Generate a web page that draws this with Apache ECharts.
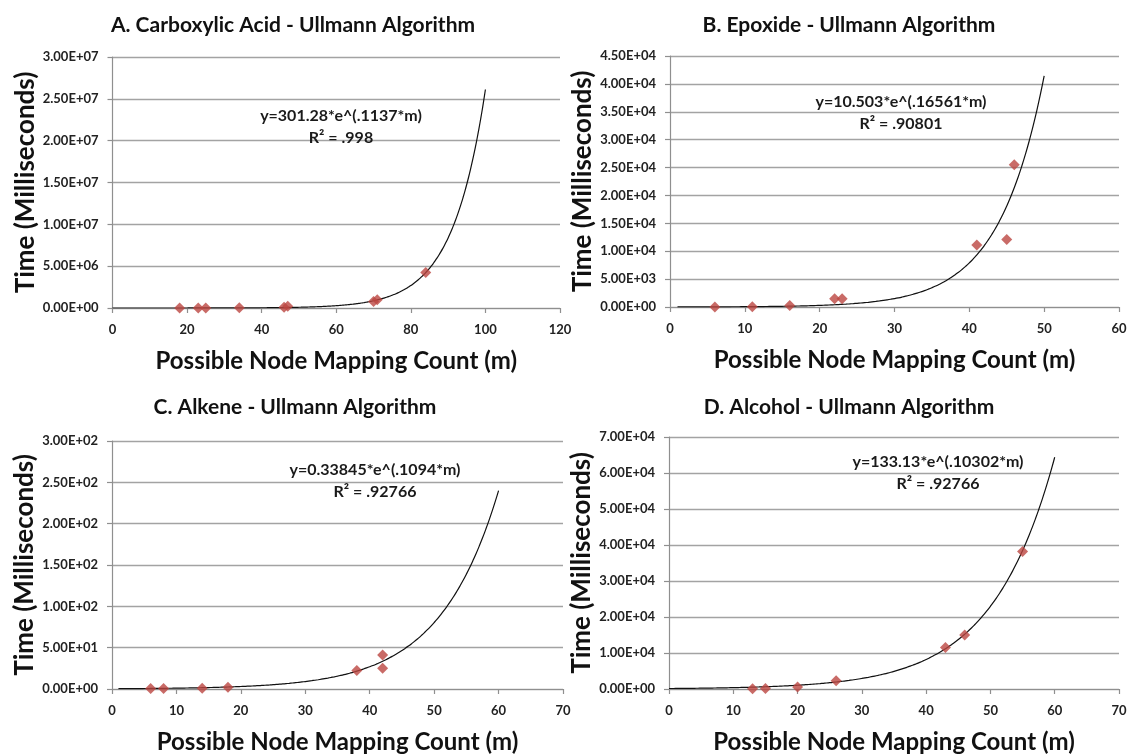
<!DOCTYPE html>
<html>
<head>
<meta charset="utf-8">
<script src="https://cdn.jsdelivr.net/npm/echarts@6/dist/echarts.min.js"></script>
<style>
  html, body { margin: 0; padding: 0; background: #fff; }
  #chart { width: 1132px; height: 756px; }
</style>
</head>
<body>
<div id="chart"></div>
<script>
// Measured run times (ms) against possible node mapping count, per functional group
const carboxylicM = [18, 23, 25, 34, 46, 47, 70, 71, 84];
const carboxylicT = [2000, 4000, 5000, 15000, 100000, 200000, 790000, 990000, 4240000];

const epoxideM = [6, 11, 16, 22, 23, 41, 45, 46];
const epoxideT = [20, 40, 250, 1500, 1500, 11100, 12100, 25500];

const alkeneM = [6, 8, 14, 18, 38, 42, 42];
const alkeneT = [0.5, 0.6, 0.8, 2, 22.5, 41, 25];

const alcoholM = [13, 15, 20, 26, 43, 46, 55];
const alcoholT = [100, 150, 550, 2300, 11500, 15000, 38200];

// Exponential trend lines y = a * e^(b*m) as printed on each panel, with the m range they span
const carboxylicFit = [301.28, 0.1137, 0, 100];
const epoxideFit = [10.503, 0.16561, 1, 50];
const alkeneFit = [0.33845, 0.1094, 1, 60];
const alcoholFit = [133.13, 0.10302, 0, 60];

const panelTitles = [
  'A. Carboxylic Acid - Ullmann Algorithm',
  'B. Epoxide - Ullmann Algorithm',
  'C. Alkene - Ullmann Algorithm',
  'D. Alcohol - Ullmann Algorithm'
];
const equationLabels = [
  ['y=301.28*e^(.1137*m)', 'R\u00b2 = .998'],
  ['y=10.503*e^(.16561*m)', 'R\u00b2 = .90801'],
  ['y=0.33845*e^(.1094*m)', 'R\u00b2 = .92766'],
  ['y=133.13*e^(.10302*m)', 'R\u00b2 = .92766']
];

// Axis ranges: [min, max, interval]
const xRanges = [[0, 120, 20], [0, 60, 10], [0, 70, 10], [0, 70, 10]];
const yRanges = [[0, 3e7, 5e6], [0, 4.5e4, 5e3], [0, 300, 50], [0, 7e4, 1e4]];

const FONT = 'Lato, "Open Sans", sans-serif';
const MARK = '#bb4641';

function sci(v) {
  if (v === 0) return '0.00E+00';
  let e = Math.floor(Math.log10(Math.abs(v)) + 1e-9);
  let m = v / Math.pow(10, e);
  if (Math.abs(m) >= 9.995) { m /= 10; e += 1; }
  return m.toFixed(2) + 'E' + (e < 0 ? '-' : '+') + String(Math.abs(e)).padStart(2, '0');
}

function trend(fit) {
  const [a, b, m0, m1] = fit;
  const pts = [];
  for (let m = m0; m <= m1 + 1e-9; m += 0.5) pts.push([m, a * Math.exp(b * m)]);
  return pts;
}

function pairs(ms, ts) { return ms.map((m, i) => [m, ts[i]]); }

const grids = [
  { left: 112.5, width: 447.5, top: 57, height: 251 },
  { left: 670, width: 449, top: 56, height: 251 },
  { left: 112, width: 451, top: 441, height: 248 },
  { left: 669, width: 450, top: 437, height: 252 }
];

const axisLineStyle = { color: '#8f8f8f', width: 1.2 };

const xAxes = grids.map((g, i) => ({
  type: 'value', gridIndex: i,
  min: xRanges[i][0], max: xRanges[i][1], interval: xRanges[i][2],
  name: 'Possible Node Mapping Count (m)',
  nameLocation: 'middle', nameGap: 41,
  nameTextStyle: { fontFamily: FONT, fontWeight: 'bold', fontSize: 24, color: '#111' },
  axisLine: { show: true, lineStyle: axisLineStyle },
  axisTick: { show: true, length: 5, lineStyle: axisLineStyle },
  axisLabel: { margin: 15, fontFamily: FONT, fontWeight: 'bold', fontSize: 13, color: '#222' },
  splitLine: { show: false }
}));

const yAxes = grids.map((g, i) => ({
  type: 'value', gridIndex: i,
  min: yRanges[i][0], max: yRanges[i][1], interval: yRanges[i][2],
  name: 'Time (Milliseconds)',
  nameLocation: 'middle', nameGap: 74, nameRotate: 90,
  nameTextStyle: { fontFamily: FONT, fontWeight: 'bold', fontSize: 26, color: '#111' },
  axisLine: { show: true, lineStyle: axisLineStyle },
  axisTick: { show: true, length: 5, lineStyle: axisLineStyle },
  axisLabel: { margin: 14, fontFamily: FONT, fontWeight: 'bold', fontSize: 13, color: '#222', formatter: sci },
  splitLine: { show: true, lineStyle: { color: '#a3a3a3', width: 1.3 } }
}));

const scatterData = [
  pairs(carboxylicM, carboxylicT),
  pairs(epoxideM, epoxideT),
  pairs(alkeneM, alkeneT),
  pairs(alcoholM, alcoholT)
];
const fits = [carboxylicFit, epoxideFit, alkeneFit, alcoholFit];

const series = [];
for (let i = 0; i < 4; i++) {
  series.push({
    type: 'line', xAxisIndex: i, yAxisIndex: i,
    data: trend(fits[i]), showSymbol: false, smooth: true,
    lineStyle: { color: '#111', width: 1.2 }, silent: true, z: 2
  });
  series.push({
    type: 'scatter', xAxisIndex: i, yAxisIndex: i,
    data: scatterData[i], symbol: 'diamond', symbolSize: 11,
    itemStyle: { color: MARK }, z: 3
  });
}

// Chart titles, centred over each panel
const titleCenters = [[288, 10], [844, 10], [290, 392], [844, 392]];
const titles = panelTitles.map((t, i) => ({
  text: t, left: titleCenters[i][0], top: titleCenters[i][1], textAlign: 'center',
  textStyle: { fontFamily: FONT, fontWeight: 'bold', fontSize: 21, color: '#111' }
}));

// Trend equation annotations
const eqPos = [[341, 116], [901, 102], [375, 470], [938, 462]];
const graphics = [];
equationLabels.forEach((lines, i) => {
  lines.forEach((txt, j) => {
    graphics.push({
      type: 'text', x: eqPos[i][0], y: eqPos[i][1] + j * 22,
      style: {
        text: txt, fontFamily: FONT, fontWeight: 'bold', fontSize: 16, fill: '#1a1a1a',
        textAlign: 'center', textVerticalAlign: 'middle'
      }, z: 10
    });
  });
});

const chart = echarts.init(document.getElementById('chart'), null, { renderer: 'canvas' });
chart.setOption({
  animation: false,
  backgroundColor: '#fff',
  title: titles,
  grid: grids,
  xAxis: xAxes,
  yAxis: yAxes,
  series: series,
  graphic: graphics
});
</script>
</body>
</html>
